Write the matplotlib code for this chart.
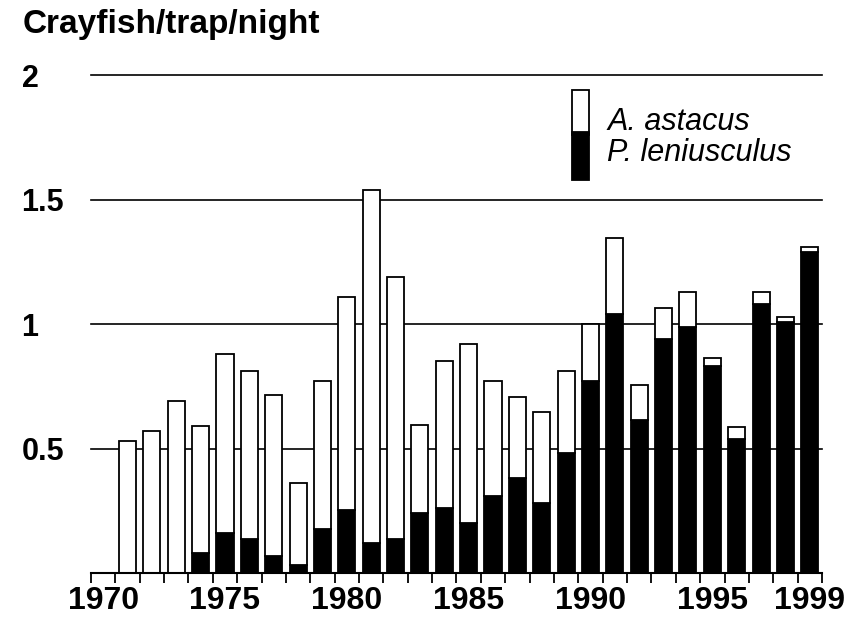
import matplotlib
matplotlib.use("Agg")
from matplotlib import pyplot as plt
from matplotlib.patches import Rectangle
from matplotlib.legend_handler import HandlerPatch
import numpy as np

# annual catches, 1971-1999
years = list(range(1971, 2000))
total = [0.53, 0.57, 0.69, 0.59, 0.88, 0.81, 0.715, 0.36, 0.77, 1.11,
         1.54, 1.19, 0.595, 0.85, 0.92, 0.77, 0.705, 0.645, 0.81, 1.0,
         1.345, 0.755, 1.065, 1.13, 0.865, 0.585, 1.13, 1.03, 1.31]
signal = [0.0, 0.0, 0.0, 0.08, 0.16, 0.135, 0.07, 0.032, 0.175, 0.255,
          0.12, 0.135, 0.24, 0.26, 0.2, 0.31, 0.38, 0.28, 0.48, 0.77,
          1.04, 0.615, 0.94, 0.99, 0.83, 0.54, 1.08, 1.01, 1.29]
noble = [t - s for t, s in zip(total, signal)]

year_labels = [1970, 1975, 1980, 1985, 1990, 1995, 1999]
y_ticks = [0.5, 1, 1.5, 2]
y_labels = ["0.5", "1", "1.5", "2"]

plt.rcParams['font.family'] = ['Liberation Sans', 'DejaVu Sans']

fig = plt.figure(figsize=(8.51, 6.17), dpi=100)
ax = fig.add_axes([0.1069, 0.0713, 0.859, 0.8071])

ax.bar(years, signal, width=0.7, color='black', edgecolor='black', linewidth=1.3)
ax.bar(years, noble, bottom=signal, width=0.7, color='white',
       edgecolor='black', linewidth=1.3)

ax.set_xlim(1969.5, 1999.5)
ax.set_ylim(0, 2.0)

ax.set_xticks(year_labels)
ax.set_xticklabels([str(y) for y in year_labels], fontsize=23, fontweight='bold')
ax.set_xticks(np.arange(1969.5, 2000.0, 1.0), minor=True)
ax.tick_params(axis='x', which='major', length=0, pad=9)
ax.tick_params(axis='x', which='minor', length=7, width=1.3, direction='out')

ax.set_yticks(y_ticks)
ax.set_yticklabels(y_labels, fontsize=22, fontweight='bold')
ax.tick_params(axis='y', length=0, pad=50)
for lab in ax.get_yticklabels():
    lab.set_horizontalalignment('left')

ax.grid(axis='y', color='black', linewidth=1.2)
ax.set_axisbelow(True)
for side in ['left', 'right', 'top']:
    ax.spines[side].set_visible(False)
ax.spines['bottom'].set_linewidth(1.5)
for gl in ax.get_ygridlines():
    gl.set_clip_on(False)

fig.text(23/851, 1 - 25/617, "Crayfish/trap/night", fontsize=24,
         fontweight='bold', va='center', ha='left')


# legend boxes touch each other and stick out above / below the text rows
def upper_box(legend, orig_handle, xdescent, ydescent, width, height, fontsize):
    return Rectangle((-xdescent, -ydescent - 1.5), width, height + 12.5)


def lower_box(legend, orig_handle, xdescent, ydescent, width, height, fontsize):
    return Rectangle((-xdescent, -ydescent - 10.5), width, height + 13.5)


h_white = Rectangle((0, 0), 1, 1, facecolor='white', edgecolor='black', linewidth=1.3)
h_black = Rectangle((0, 0), 1, 1, facecolor='black', edgecolor='black', linewidth=1.3)
leg = fig.legend([h_white, h_black], ["A. astacus", "P. leniusculus"],
                 loc='upper left', bbox_to_anchor=(572/851, 1 - 105/617),
                 frameon=False, borderpad=0, borderaxespad=0,
                 handlelength=0.55, handleheight=1.05, handletextpad=0.6,
                 labelspacing=0,
                 handler_map={h_white: HandlerPatch(patch_func=upper_box),
                              h_black: HandlerPatch(patch_func=lower_box)},
                 prop={'size': 22, 'style': 'italic'})

fig.savefig("out.png", dpi=100)
